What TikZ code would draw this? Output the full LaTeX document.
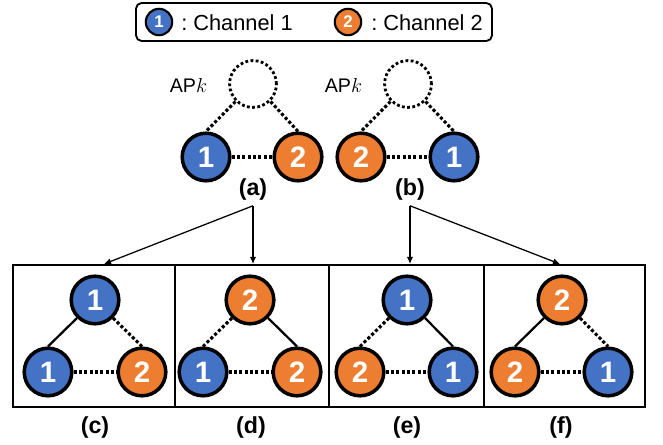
\documentclass[tikz,border=0pt]{standalone}
\usepackage{fontspec}
\setmainfont{Liberation Sans}
\usetikzlibrary{arrows.meta}
\definecolor{chblue}{HTML}{4472C4}
\definecolor{chorange}{HTML}{ED7D31}
\tikzset{
  ch/.style={circle, draw=black, line width=2.5pt, minimum size=1.19cm, inner sep=0pt, text=white, font=\fontsize{21}{21}\selectfont\bfseries},
  chone/.style={ch, fill=chblue},
  chtwo/.style={ch, fill=chorange},
  legch/.style={minimum size=0.66cm, line width=1.5pt, font=\fontsize{12}{12}\selectfont\bfseries},
  apnode/.style={circle, draw=black, line width=2pt, dash pattern=on 2pt off 1.7pt, minimum size=1.17cm},
  samech/.style={line width=1.6pt},
  diffch/.style={line width=2.2pt, dash pattern=on 2.2pt off 1.6pt},
  lbl/.style={font=\fontsize{16.5}{16.5}\selectfont\bfseries},
  boxline/.style={line width=1.3pt},
  pick/.style={line width=0.9pt, -{Latex[length=5pt,width=4.5pt]}},
}

\begin{document}
\begin{tikzpicture}[x=0.025cm, y=-0.025cm]
\useasboundingbox (0,0) rectangle (663,445);
% legend
\draw[boxline, rounded corners=4pt] (136,3) rectangle (492,41);
\node[chone, legch] (leg1) at (159,22) {1};
\node[anchor=base west, inner sep=0pt, font=\fontsize{15.5}{15.5}\selectfont] (legtxt1) at (181,31) {:\ Channel 1};
\node[chtwo, legch] (leg2) at (348,22) {2};
\node[anchor=base west, inner sep=0pt, font=\fontsize{15.5}{15.5}\selectfont] (legtxt2) at (371,31) {:\ Channel 2};

% (a)
\node[apnode] (apa) at (253,84) {};
\node[anchor=east, font=\fontsize{14}{14}\selectfont] (apka) at (212,85) {AP$k$};
\node[chone] (a1) at (206,157) {1};
\node[chtwo] (a2) at (298,157) {2};
\draw[diffch] (apa.south west) -- (a1.north);
\draw[diffch] (apa.south east) -- (a2.north);
\draw[diffch] (a1) -- (a2);
\node[lbl] (la) at (253,190) {(a)};

% (b)
\node[apnode] (apb) at (408,84) {};
\node[anchor=east, font=\fontsize{14}{14}\selectfont] (apkb) at (367,85) {AP$k$};
\node[chtwo] (b2) at (361,157) {2};
\node[chone] (b1) at (454,157) {1};
\draw[diffch] (apb.south west) -- (b2.north);
\draw[diffch] (apb.south east) -- (b1.north);
\draw[diffch] (b2) -- (b1);
\node[lbl] (lb) at (410,190) {(b)};

% panels
\draw[boxline] (13,265) rectangle (645,407);
\foreach \x in {175,329,484} \draw[boxline] (\x,265) -- (\x,407);
\coordinate (toc) at (104,264);
\coordinate (tod) at (253,264);
\coordinate (toe) at (410,264);
\coordinate (tof) at (560,264);
\draw[pick] (la.south) -- (toc);
\draw[pick] (la.south) -- (tod);
\draw[pick] (lb.south) -- (toe);
\draw[pick] (lb.south) -- (tof);

% (c)
\node[chone] (ct) at (95,300) {1};
\node[chone] (cl) at (48,372) {1};
\node[chtwo] (cr) at (142,372) {2};
\draw[samech] (ct.south west) -- (cl.north);
\draw[diffch] (ct.south east) -- (cr.north);
\draw[diffch] (cl) -- (cr);
\node[lbl] (lc) at (95,427) {(c)};

% (d)
\node[chtwo] (dt) at (250,300) {2};
\node[chone] (dl) at (203,372) {1};
\node[chtwo] (dr) at (297,372) {2};
\draw[diffch] (dt.south west) -- (dl.north);
\draw[samech] (dt.south east) -- (dr.north);
\draw[diffch] (dl) -- (dr);
\node[lbl] (ld) at (251,427) {(d)};

% (e)
\node[chone] (et) at (407,300) {1};
\node[chtwo] (el) at (360,372) {2};
\node[chone] (er) at (453,372) {1};
\draw[diffch] (et.south west) -- (el.north);
\draw[samech] (et.south east) -- (er.north);
\draw[diffch] (el) -- (er);
\node[lbl] (le) at (407,427) {(e)};

% (f)
\node[chtwo] (ft) at (562,300) {2};
\node[chtwo] (fl) at (515,372) {2};
\node[chone] (fr) at (608,372) {1};
\draw[samech] (ft.south west) -- (fl.north);
\draw[diffch] (ft.south east) -- (fr.north);
\draw[diffch] (fl) -- (fr);
\node[lbl] (lf) at (561,427) {(f)};
\end{tikzpicture}
\end{document}
